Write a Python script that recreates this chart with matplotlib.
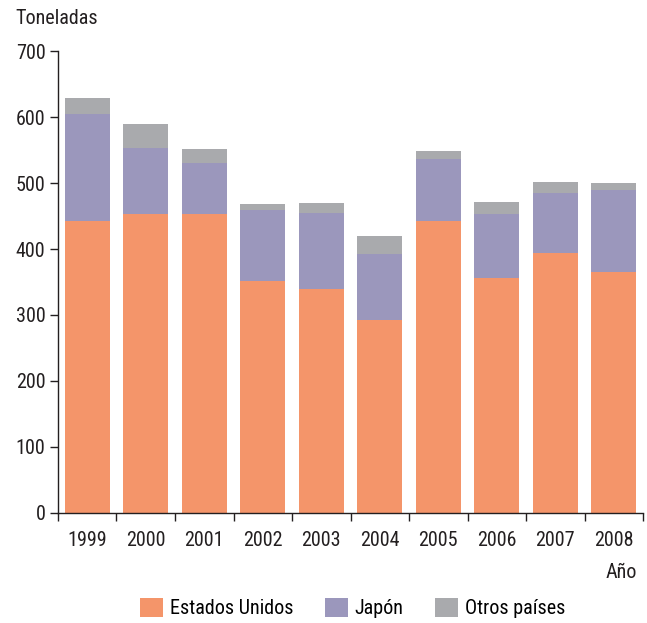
import matplotlib
matplotlib.use("Agg")
import matplotlib.pyplot as plt
import numpy as np
from matplotlib.patches import Patch

plt.rcParams["font.family"] = ["Roboto Condensed", "DejaVu Sans"]

years = ["1999", "2000", "2001", "2002", "2003", "2004", "2005", "2006", "2007", "2008"]
estados_unidos = [442, 453, 453, 352, 339, 292, 442, 356, 394, 365]
japon = [163, 100, 77, 107, 116, 100, 94, 97, 91, 124]
otros = [24, 36, 22, 9, 15, 28, 12, 18, 17, 11]

colors = ["#F4956A", "#9B97BC", "#A9AAAD"]
labels = ["Estados Unidos", "Japón", "Otros países"]
txt = "#231F20"
fs = 14.5

fig = plt.figure(figsize=(6.47, 6.23), dpi=100)
ax = fig.add_axes([0.0896, 0.1766, 0.9044, 0.7415])

x = np.arange(len(years))
w = 0.77
eu = np.array(estados_unidos)
jp = np.array(japon)
ot = np.array(otros)
ax.bar(x, eu, w, color=colors[0], linewidth=0)
ax.bar(x, jp, w, bottom=eu, color=colors[1], linewidth=0)
ax.bar(x, ot, w, bottom=eu + jp, color=colors[2], linewidth=0)

ax.set_xlim(-0.5, len(years) - 0.5)
ax.set_ylim(0, 700)
ax.set_yticks(range(0, 701, 100))
ax.set_xticks(x)
ax.set_xticklabels(years)
ax.set_xticks(np.arange(-0.5, len(years)), minor=True)
ax.tick_params(axis="x", which="major", length=0, pad=13, labelsize=fs, colors=txt)
ax.tick_params(axis="x", which="minor", length=6, width=1, color=txt)
ax.tick_params(axis="y", length=6, width=1, labelsize=fs, colors=txt, pad=3)
for s in ["top", "right"]:
    ax.spines[s].set_visible(False)
for s in ["left", "bottom"]:
    ax.spines[s].set_color(txt)
    ax.spines[s].set_linewidth(1)

fig.text(15 / 647, 1 - 18 / 623, "Toneladas", fontsize=fs, color=txt, va="center", ha="left")
fig.text(637 / 647, 1 - 573 / 623, "Año", fontsize=fs, color=txt, va="center", ha="right")

handles = [Patch(facecolor=c, edgecolor="none") for c in colors]
fig.legend(handles, labels, loc="center", bbox_to_anchor=(0.545, 1 - 608 / 623), ncol=3,
           frameon=False, fontsize=fs, handlelength=1.15, handleheight=1.1,
           columnspacing=1.55, handletextpad=0.35)

fig.savefig("out.png", dpi=100)
